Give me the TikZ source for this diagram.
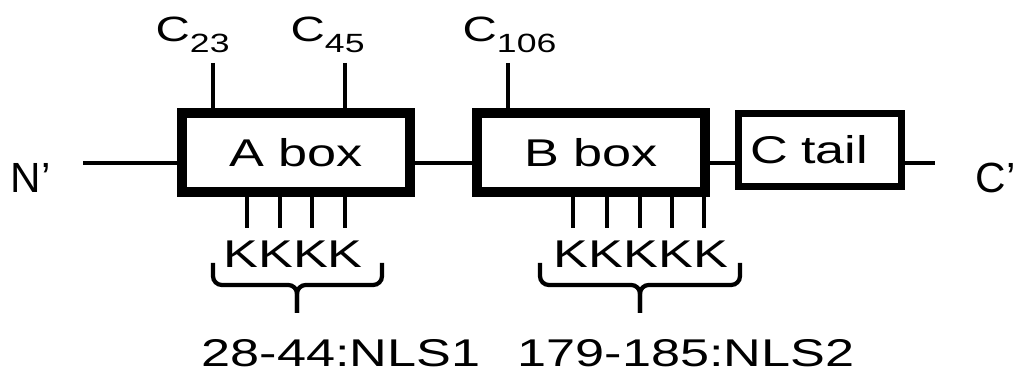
\documentclass[tikz,border=0pt]{standalone}
\usepackage{fontspec}
\setmainfont[FakeStretch=1.35]{Liberation Sans}
\newfontfamily\endfont{Liberation Sans}
\newcommand{\Cys}[1]{{\fontsize{10pt}{12pt}\selectfont C}\raisebox{-0.11cm}{\fontsize{7.5pt}{9pt}\selectfont #1}}

\begin{document}
\begin{tikzpicture}[x=0.01cm, y=0.01cm, font=\fontsize{11pt}{13pt}\selectfont]
    \useasboundingbox (0, 0) rectangle (1021, 371);
    \tikzset{DomainBox/.style={rectangle, draw=black, line width=0.1cm, inner sep=0pt, minimum width=2.28cm, minimum height=0.79cm}}
    \tikzset{TailBox/.style={rectangle, draw=black, line width=0.07cm, inner ysep=0pt, inner xsep=0.12cm, text width=1.39cm, align=left, minimum height=0.73cm}}
    \tikzset{EndLabel/.style={anchor=base west, inner sep=0pt, font=\endfont\fontsize{12pt}{14pt}\selectfont}}
    \tikzset{Backbone/.style={line width=1.3pt}}
    \tikzset{SiteStick/.style={line width=1.3pt}}
    \tikzset{NlsBrace/.style={line width=1.2pt, rounded corners=2.5pt}}
    \node[DomainBox] (abox) at (296, 218.5) {A box}; % A box
    \node[DomainBox] (bbox) at (591, 218.5) {B box}; % B box
    \node[TailBox] (ctail) at (820, 221) {C tail}; % C tail
    \node[EndLabel] (nterm) at (10, 178) {N’}; % N'
    \node[EndLabel] (cterm) at (975, 178) {C’}; % C'
    \coordinate (nend) at (83, 208);
    \coordinate (cend) at (935, 208);

    \draw[Backbone] (nend) -- (nend -| abox.west);
    \draw[Backbone] (abox.east |- nend) -- (bbox.west |- nend);
    \draw[Backbone] (bbox.east |- nend) -- (ctail.west |- nend);
    \draw[Backbone] (ctail.east |- nend) -- (cend);

    % cysteines
    \node[anchor=base west, inner sep=0pt] (lab-c23) at (155, 329) {\Cys{23}};
    \node[anchor=base west, inner sep=0pt] (lab-c45) at (290, 329) {\Cys{45}};
    \node[anchor=base west, inner sep=0pt] (lab-c106) at (462, 329) {\Cys{106}};
    \coordinate (c23) at (213, 308);
    \coordinate (c45) at (345, 308);
    \coordinate (c106) at (508, 308);
    \draw[SiteStick] (c23) -- (c23 |- abox.north);
    \draw[SiteStick] (c45) -- (c45 |- abox.north);
    \draw[SiteStick] (c106) -- (c106 |- bbox.north);

    % lysines
    \coordinate (ka-1) at (247, 143);
    \coordinate (ka-2) at (280, 143);
    \coordinate (ka-3) at (312, 143);
    \coordinate (ka-4) at (345, 143);
    \coordinate (kb-1) at (573, 143);
    \coordinate (kb-2) at (607, 143);
    \coordinate (kb-3) at (640, 143);
    \coordinate (kb-4) at (672, 143);
    \coordinate (kb-5) at (704, 143);
    \draw[SiteStick] (abox.south -| ka-1) -- (ka-1);
    \draw[SiteStick] (abox.south -| ka-2) -- (ka-2);
    \draw[SiteStick] (abox.south -| ka-3) -- (ka-3);
    \draw[SiteStick] (abox.south -| ka-4) -- (ka-4);
    \draw[SiteStick] (bbox.south -| kb-1) -- (kb-1);
    \draw[SiteStick] (bbox.south -| kb-2) -- (kb-2);
    \draw[SiteStick] (bbox.south -| kb-3) -- (kb-3);
    \draw[SiteStick] (bbox.south -| kb-4) -- (kb-4);
    \draw[SiteStick] (bbox.south -| kb-5) -- (kb-5);
    \node[anchor=base] (lys-a) at (293, 103) {KKKK};
    \node[anchor=base] (lys-b) at (641, 103) {KKKKK};

    % NLS braces
    \draw[NlsBrace] (213, 108) -- (213, 86) -- (297, 86) -- (297, 58);
    \draw[NlsBrace] (382, 108) -- (382, 86) -- (297, 86) -- (297, 58);
    \draw[NlsBrace] (540, 108) -- (540, 86) -- (640, 86) -- (640, 58);
    \draw[NlsBrace] (740, 108) -- (740, 86) -- (640, 86) -- (640, 58);
    \node[anchor=base] (nls-1) at (341, 4) {28-44:NLS1};
    \node[anchor=base] (nls-2) at (686, 4) {179-185:NLS2};
\end{tikzpicture}
\end{document}
